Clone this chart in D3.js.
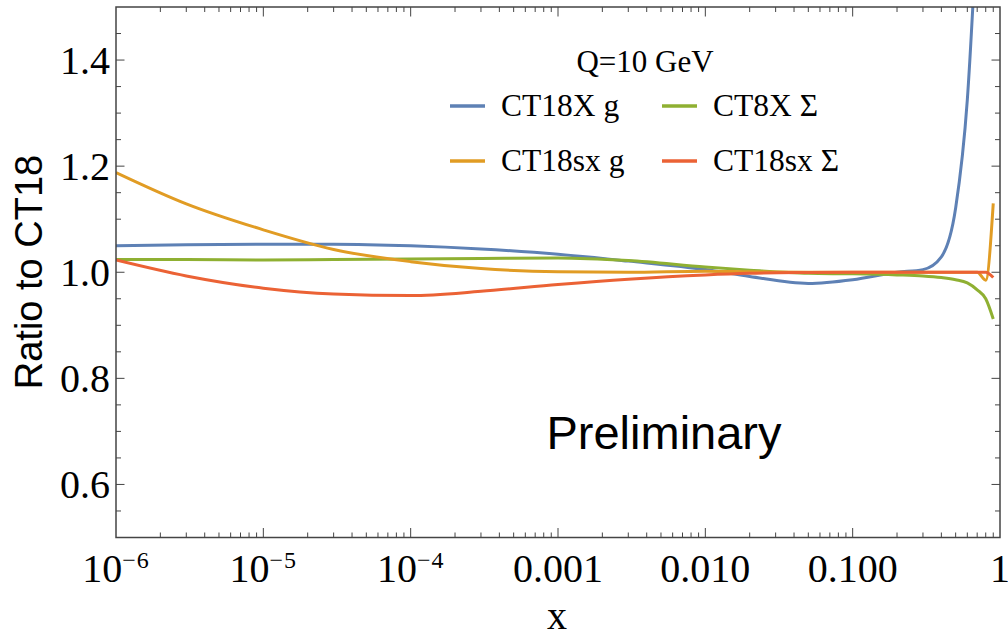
<!DOCTYPE html>
<html>
<head>
<meta charset="utf-8">
<script src="https://cdn.jsdelivr.net/npm/d3@7"></script>
<style>
  html, body { margin: 0; padding: 0; background: #fff; }
  svg { display: block; }
</style>
</head>
<body>
<svg id="chart" width="1008" height="637"></svg>
<script>
// Ratio of PDF fits to CT18 at Q = 10 GeV
const xGrid = [1e-6, 3e-6, 1e-5, 3e-5, 1e-4, 3e-4, 1e-3, 3e-3, 0.01, 0.02, 0.05, 0.1, 0.2, 0.3, 0.4, 0.5, 0.6, 0.7, 0.8, 0.9];

const ct18xG    = [1.050, 1.052, 1.053, 1.053, 1.050, 1.044, 1.034, 1.021, 1.005, 0.992, 0.979, 0.986, 1.000, 1.005, 1.029, 1.121, 1.325, 1.660, null, null];
const ct8xSigma = [1.024, 1.024, 1.023, 1.024, 1.025, 1.026, 1.027, 1.022, 1.010, 1.004, 0.998, 0.997, 0.995, 0.993, 0.990, 0.986, 0.980, 0.967, 0.950, 0.912];
const ct18sxG   = [1.188, 1.129, 1.080, 1.043, 1.020, 1.007, 1.001, 1.000, 1.002, 1.001, 1.000, 1.000, 1.000, 1.000, 1.000, 1.000, 1.000, 1.000, 0.985, 1.130];
const ct18sxSig = [1.023, 0.993, 0.970, 0.959, 0.956, 0.964, 0.977, 0.987, 0.995, 0.998, 0.9995, 1.000, 1.000, 1.000, 1.000, 1.000, 1.000, 1.000, 1.000, 0.990];

const seriesNames  = ["CT18X g", "CT8X Σ", "CT18sx g", "CT18sx Σ"];
const seriesColors = ["#5E81B5", "#8FB032", "#E19C24", "#EB6235"];
const seriesValues = [ct18xG, ct8xSigma, ct18sxG, ct18sxSig];

const xTickValues = [1e-6, 1e-5, 1e-4, 1e-3, 1e-2, 1e-1, 1];
const xTickBase   = ["10", "10", "10", "0.001", "0.010", "0.100", "1"];
const xTickExp    = ["−6", "−5", "−4", "", "", "", ""];
const yTickValues = [0.6, 0.8, 1.0, 1.2, 1.4];
const yTickLabels = ["0.6", "0.8", "1.0", "1.2", "1.4"];

const svg = d3.select("#chart");
const plotLeft = 116, plotRight = 1000, plotTop = 7, plotBottom = 537.5;

const x = d3.scaleLog().domain([1e-6, 1]).range([plotLeft, plotRight]);
const y = d3.scaleLinear().domain([0.5, 1.5]).range([plotBottom, plotTop]);

const serif = "'Liberation Serif', 'Times New Roman', serif";
const sans = "'Liberation Sans', Arial, sans-serif";
const frameColor = "#444";

svg.append("defs").append("clipPath").attr("id", "plotClip")
  .append("rect").attr("x", plotLeft).attr("y", plotTop)
  .attr("width", plotRight - plotLeft).attr("height", plotBottom - plotTop);

// minor tick positions
const xMinor = [];
for (let e = -6; e < 0; e++) for (let m = 2; m <= 9; m++) xMinor.push(m * Math.pow(10, e));
const yMinor = d3.range(0.55, 1.5, 0.05).filter(v => !yTickValues.some(t => Math.abs(t - v) < 1e-6));

const ticks = svg.append("g").attr("stroke", frameColor).attr("stroke-width", 1);
function vTicks(vals, len) {
  vals.forEach(v => {
    const px = x(v);
    ticks.append("line").attr("x1", px).attr("x2", px).attr("y1", plotBottom).attr("y2", plotBottom - len);
    ticks.append("line").attr("x1", px).attr("x2", px).attr("y1", plotTop).attr("y2", plotTop + len);
  });
}
function hTicks(vals, len) {
  vals.forEach(v => {
    const py = y(v);
    ticks.append("line").attr("x1", plotLeft).attr("x2", plotLeft + len).attr("y1", py).attr("y2", py);
    ticks.append("line").attr("x1", plotRight).attr("x2", plotRight - len).attr("y1", py).attr("y2", py);
  });
}
vTicks(xTickValues.slice(1, -1), 9.5);
vTicks(xMinor, 5);
hTicks(yTickValues, 8.5);
hTicks(yMinor, 5);

// curves
const line = d3.line()
  .defined(d => d[1] !== null)
  .x(d => x(d[0]))
  .y(d => y(d[1]))
  .curve(d3.curveMonotoneX);

const curves = svg.append("g").attr("clip-path", "url(#plotClip)");
seriesValues.forEach((vals, i) => {
  const pts = xGrid.map((xv, j) => [xv, vals[j]]);
  curves.append("path")
    .attr("d", line(pts))
    .attr("fill", "none")
    .attr("stroke", seriesColors[i])
    .attr("stroke-width", 3)
    .attr("stroke-linejoin", "round");
});

// frame
svg.append("rect")
  .attr("x", plotLeft).attr("y", plotTop)
  .attr("width", plotRight - plotLeft).attr("height", plotBottom - plotTop)
  .attr("fill", "none").attr("stroke", frameColor).attr("stroke-width", 1.5);

// x tick labels
const xl = svg.append("g").attr("font-family", serif).attr("fill", "#000");
xTickValues.forEach((v, i) => {
  const t = xl.append("text")
    .attr("x", x(v)).attr("y", 582)
    .attr("text-anchor", "middle")
    .attr("font-size", 40);
  t.append("tspan").text(xTickBase[i]);
  if (xTickExp[i]) {
    t.append("tspan").attr("font-size", 24).attr("dy", -14).attr("letter-spacing", 1).text(xTickExp[i]);
  }
});

// y tick labels
const yl = svg.append("g").attr("font-family", serif).attr("fill", "#000");
yTickValues.forEach((v, i) => {
  yl.append("text")
    .attr("x", 110).attr("y", y(v) + 14)
    .attr("text-anchor", "end")
    .attr("font-size", 40)
    .text(yTickLabels[i]);
});

// axis titles
svg.append("text")
  .attr("x", 557).attr("y", 629)
  .attr("text-anchor", "middle")
  .attr("font-family", serif).attr("font-size", 40)
  .text("x");

svg.append("text")
  .attr("transform", "translate(42,272) rotate(-90)")
  .attr("text-anchor", "middle")
  .attr("font-family", sans).attr("font-size", 38)
  .text("Ratio to CT18");

// legend
const lg = svg.append("g").attr("font-family", serif).attr("fill", "#000");
lg.append("text")
  .attr("x", 645).attr("y", 72)
  .attr("text-anchor", "middle").attr("font-size", 31)
  .text("Q=10 GeV");

const legendPos = [[450, 106], [662, 106], [450, 161], [662, 161]];
seriesNames.forEach((name, i) => {
  const [lx, ly] = legendPos[i];
  lg.append("line")
    .attr("x1", lx).attr("x2", lx + 35).attr("y1", ly).attr("y2", ly)
    .attr("stroke", seriesColors[i]).attr("stroke-width", 3.5);
  lg.append("text")
    .attr("x", lx + 51).attr("y", ly + 10)
    .attr("font-size", 31.5)
    .text(name);
});

// watermark
svg.append("text")
  .attr("x", 664).attr("y", 449)
  .attr("text-anchor", "middle")
  .attr("font-family", sans).attr("font-size", 47)
  .attr("fill", "#000")
  .text("Preliminary");
</script>
</body>
</html>
